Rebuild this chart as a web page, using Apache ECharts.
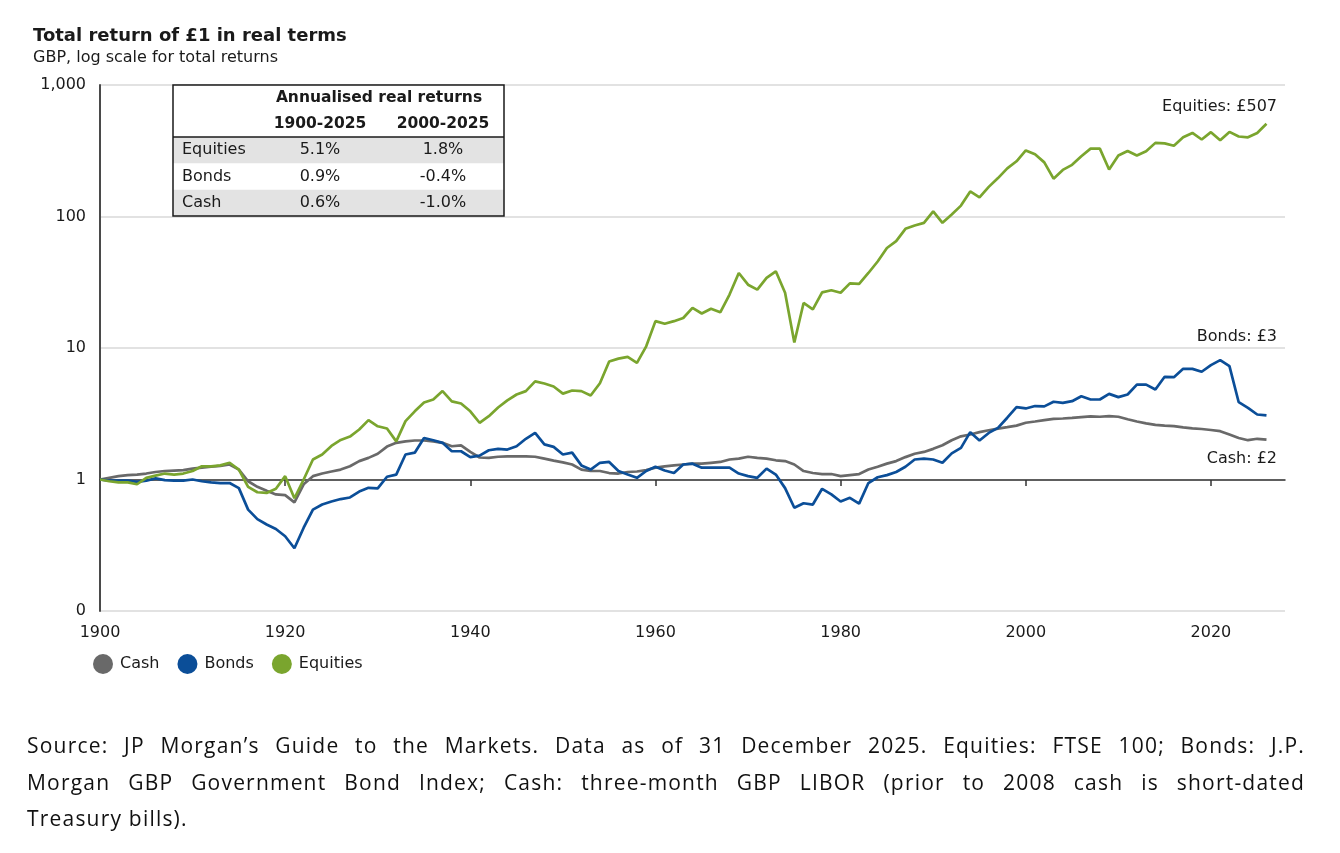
<!DOCTYPE html>
<html>
<head>
<meta charset="utf-8">
<script src="https://cdn.jsdelivr.net/npm/echarts@6/dist/echarts.min.js"></script>
<style>
  html, body { margin: 0; padding: 0; background: #ffffff; }
  #chart { position: absolute; left: 0; top: 0; width: 1340px; height: 853px; }
  .src { position: absolute; z-index: 5; left: 27px; width: 1278px; font-family: "Open Sans", "Noto Sans", sans-serif; font-size: 21px; letter-spacing: 1.2px; color: #111; white-space: nowrap; line-height: 28px; }
  .just { text-align: justify; text-align-last: justify; white-space: normal; }
</style>
</head>
<body>
<div id="chart"></div>
<div class="src just" style="top:731px;">Source: JP Morgan’s Guide to the Markets. Data as of 31 December 2025. Equities: FTSE 100; Bonds: J.P.</div>
<div class="src just" style="top:768px;">Morgan GBP Government Bond Index; Cash: three-month GBP LIBOR (prior to 2008 cash is short-dated</div>
<div class="src" style="top:804px;">Treasury bills).</div>
<script>
const years = [1900,1901,1902,1903,1904,1905,1906,1907,1908,1909,1910,1911,1912,1913,1914,1915,1916,1917,1918,1919,
1920,1921,1922,1923,1924,1925,1926,1927,1928,1929,1930,1931,1932,1933,1934,1935,1936,1937,1938,1939,
1940,1941,1942,1943,1944,1945,1946,1947,1948,1949,1950,1951,1952,1953,1954,1955,1956,1957,1958,1959,
1960,1961,1962,1963,1964,1965,1966,1967,1968,1969,1970,1971,1972,1973,1974,1975,1976,1977,1978,1979,
1980,1981,1982,1983,1984,1985,1986,1987,1988,1989,1990,1991,1992,1993,1994,1995,1996,1997,1998,1999,
2000,2001,2002,2003,2004,2005,2006,2007,2008,2009,2010,2011,2012,2013,2014,2015,2016,2017,2018,2019,
2020,2021,2022,2023,2024,2025,2026];

const equities = [1.0,0.97,0.95,0.95,0.92,1.03,1.07,1.11,1.09,1.11,1.16,1.26,1.26,1.28,1.34,1.19,0.88,0.80,0.79,0.85,
1.06,0.72,1.0,1.42,1.55,1.8,2.0,2.12,2.4,2.83,2.54,2.44,1.95,2.78,3.3,3.85,4.06,4.7,3.93,3.78,
3.3,2.7,3.03,3.53,4.0,4.43,4.7,5.58,5.37,5.1,4.5,4.75,4.7,4.35,5.4,7.9,8.3,8.55,7.7,10.3,
16.0,15.3,16.0,16.9,20.2,18.3,19.9,18.7,25.5,37.2,30.3,27.8,34.1,38.3,26.3,11.0,22.0,19.7,26.5,27.5,
26.3,31,30.7,37.2,45.5,57.6,65,80.6,85.5,89.5,109.5,89.5,103.6,121,155,140,168,196,232,263,
318,297,258,194,226,247,287,328,328,228,291,315,291,313,363,360,345,400,432,385,
438,380,440,406,400,432,507];

const bonds = [1.0,0.98,0.98,0.98,0.96,0.98,1.02,0.99,0.98,0.98,1.0,0.97,0.95,0.94,0.94,0.86,0.59,0.50,0.455,0.42,
0.37,0.30,0.43,0.59,0.645,0.68,0.71,0.73,0.81,0.865,0.855,1.05,1.09,1.55,1.6,2.07,1.99,1.9,1.64,1.64,
1.48,1.52,1.67,1.71,1.69,1.79,2.04,2.26,1.85,1.77,1.55,1.6,1.28,1.19,1.34,1.36,1.16,1.09,1.03,1.16,
1.25,1.17,1.12,1.3,1.32,1.23,1.23,1.23,1.23,1.11,1.06,1.03,1.21,1.09,0.86,0.61,0.66,0.645,0.85,0.77,
0.68,0.725,0.655,0.94,1.04,1.08,1.14,1.25,1.42,1.44,1.42,1.34,1.58,1.74,2.29,1.98,2.26,2.47,2.95,3.55,
3.47,3.62,3.6,3.9,3.83,3.94,4.3,4.06,4.06,4.48,4.23,4.43,5.27,5.27,4.83,6.04,6.0,6.94,6.94,6.6,
7.41,8.09,7.27,3.87,3.51,3.12,3.07];

const cash = [1.0,1.03,1.06,1.08,1.09,1.11,1.14,1.16,1.17,1.18,1.21,1.23,1.25,1.27,1.3,1.19,0.97,0.88,0.82,0.77,
0.76,0.67,0.92,1.06,1.11,1.15,1.19,1.26,1.38,1.46,1.57,1.78,1.9,1.95,1.98,1.98,1.95,1.9,1.79,1.82,
1.62,1.47,1.46,1.49,1.5,1.5,1.5,1.49,1.44,1.39,1.35,1.3,1.19,1.16,1.16,1.12,1.11,1.14,1.15,1.18,
1.23,1.26,1.28,1.3,1.32,1.32,1.34,1.36,1.42,1.44,1.49,1.46,1.44,1.4,1.38,1.3,1.16,1.12,1.1,1.1,
1.06,1.08,1.1,1.19,1.25,1.32,1.38,1.48,1.57,1.62,1.71,1.82,1.99,2.13,2.2,2.29,2.37,2.44,2.5,2.57,
2.7,2.76,2.83,2.89,2.91,2.94,2.98,3.02,3.0,3.03,3.0,2.87,2.76,2.67,2.6,2.57,2.55,2.49,2.45,2.42,
2.38,2.33,2.2,2.07,1.99,2.04,2.01];

const xTickLabels = [1900,1920,1940,1960,1980,2000,2020];
const xInnerTicks = [1920,1940,1960,1980,2000,2020];

const tableTitle = 'Annualised real returns';
const tableCols = ['1900-2025','2000-2025'];
const tableRows = ['Equities','Bonds','Cash'];
const ret1900 = ['5.1%','0.9%','0.6%'];
const ret2000 = ['1.8%','-0.4%','-1.0%'];

const endLabels = ['Equities: £507','Bonds: £3','Cash: £2'];

const FONT = '"DejaVu Sans", "Liberation Sans", Arial, sans-serif';
const C_CASH = '#696969', C_BONDS = '#0b4e98', C_EQ = '#7aa52e';
const TXT = '#1a1a1a';

function pairs(arr){ return arr.map((v,i)=>[years[i], v]); }

const chart = echarts.init(document.getElementById('chart'), null, {renderer:'canvas'});

const g = [];
const tx = 173, ty = 85, tw = 331, th = 131;
const rowTop = 137, rowH = (216 - 137) / 3;
g.push({type:'rect', shape:{x:tx, y:ty, width:tw, height:th}, style:{fill:'#ffffff'}, silent:true, z:10});
tableRows.forEach((r,i)=>{
  if (i !== 1) g.push({type:'rect', shape:{x:tx, y:rowTop + i*rowH, width:tw, height:rowH}, style:{fill:'#e3e3e3'}, silent:true, z:11});
});
g.push({type:'rect', shape:{x:tx, y:ty, width:tw, height:th}, style:{fill:null, stroke:'#1a1a1a', lineWidth:1.5}, silent:true, z:12});
g.push({type:'line', shape:{x1:tx, y1:rowTop, x2:tx+tw, y2:rowTop}, style:{stroke:'#1a1a1a', lineWidth:1.5}, silent:true, z:12});
const tFontB = 'bold 15.5px ' + FONT, tFont = '16px ' + FONT;
g.push({type:'text', x:379, y:98, z:13, style:{text:tableTitle, font:tFontB, fill:TXT, align:'center', verticalAlign:'middle'}});
g.push({type:'text', x:320, y:124, z:13, style:{text:tableCols[0], font:tFontB, fill:TXT, align:'center', verticalAlign:'middle'}});
g.push({type:'text', x:443, y:124, z:13, style:{text:tableCols[1], font:tFontB, fill:TXT, align:'center', verticalAlign:'middle'}});
tableRows.forEach((r,i)=>{
  const cy = rowTop + i*rowH + rowH/2;
  g.push({type:'text', x:182, y:cy, z:13, style:{text:r, font:tFont, fill:TXT, align:'left', verticalAlign:'middle'}});
  g.push({type:'text', x:320, y:cy, z:13, style:{text:ret1900[i], font:tFont, fill:TXT, align:'center', verticalAlign:'middle'}});
  g.push({type:'text', x:443, y:cy, z:13, style:{text:ret2000[i], font:tFont, fill:TXT, align:'center', verticalAlign:'middle'}});
});
const endY = [107, 337, 459];
endLabels.forEach((t,i)=>{
  g.push({type:'text', x:1277, y:endY[i], z:13, style:{text:t, font:tFont, fill:TXT, align:'right', verticalAlign:'middle'}});
});

const option = {
  backgroundColor:'#ffffff',
  animation:false,
  textStyle:{fontFamily:FONT},
  title:{
    text:'Total return of £1 in real terms',
    subtext:'GBP, log scale for total returns',
    left:28, top:22, itemGap:5,
    textStyle:{fontFamily:FONT, fontSize:18, fontWeight:'bold', color:TXT},
    subtextStyle:{fontFamily:FONT, fontSize:16, color:TXT}
  },
  legend:{
    data:['Cash','Bonds','Equities'],
    left:88, top:649, icon:'circle', itemWidth:20, itemHeight:20, itemGap:18,
    textStyle:{fontFamily:FONT, fontSize:16, color:TXT, padding:[0,0,0,2]}
  },
  grid:{left:100, right:55, top:85, bottom:242, containLabel:false},
  xAxis:[{
    type:'value', min:1900, max:2028, interval:20,
    axisLine:{show:false}, axisTick:{show:false}, splitLine:{show:false},
    axisLabel:{customValues:xTickLabels, fontFamily:FONT, fontSize:16, color:TXT, margin:14,
      formatter:v=>String(v)}
  },{
    type:'value', min:1900, max:2028, interval:20, position:'top', offset:-395,
    axisLine:{show:true, lineStyle:{color:'#333', width:1.5}},
    axisTick:{show:true, inside:true, length:6, customValues:xInnerTicks, lineStyle:{color:'#333', width:1.5}},
    axisLabel:{show:false}, splitLine:{show:false}
  }],
  yAxis:{
    type:'log', logBase:10, min:0.1, max:1000,
    axisLine:{show:true, lineStyle:{color:'#4a4a4a', width:2}},
    axisTick:{show:false},
    splitLine:{show:true, lineStyle:{color:'#d9d9d9', width:1.5}},
    axisLabel:{fontFamily:FONT, fontSize:16, color:TXT, margin:14,
      formatter:v=> v < 1 ? '0' : Number(v).toLocaleString('en-US')}
  },
  graphic: g,
  series:[
    {name:'Cash', type:'line', data:pairs(cash), showSymbol:false, color:C_CASH, lineStyle:{width:2.7, color:C_CASH}},
    {name:'Bonds', type:'line', data:pairs(bonds), showSymbol:false, color:C_BONDS, lineStyle:{width:2.7, color:C_BONDS}},
    {name:'Equities', type:'line', data:pairs(equities), showSymbol:false, color:C_EQ, lineStyle:{width:2.7, color:C_EQ}}
  ]
};
chart.setOption(option);
</script>
</body>
</html>
